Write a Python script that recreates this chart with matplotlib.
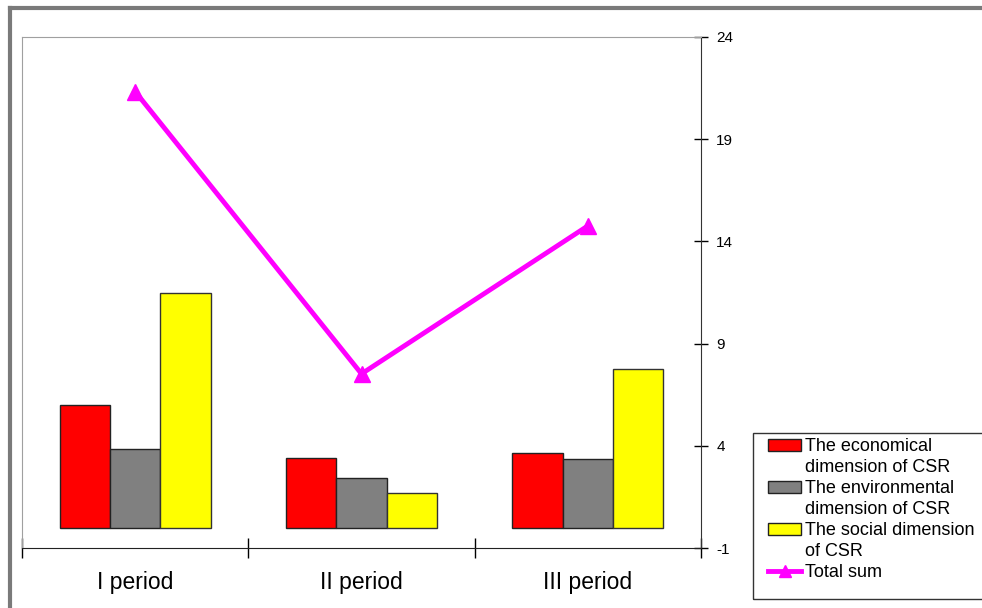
import matplotlib
matplotlib.use("Agg")
import matplotlib.pyplot as plt
from matplotlib.patches import Patch, Rectangle
from matplotlib.lines import Line2D
import numpy as np

plt.rcParams['font.family'] = ['Liberation Sans', 'DejaVu Sans']
plt.rcParams['axes.unicode_minus'] = False

# data
periods = ['I period', 'II period', 'III period']
economical = [6.0, 3.4, 3.65]
environmental = [3.85, 2.43, 3.36]
social = [11.48, 1.69, 7.75]
total = [21.33, 7.52, 14.76]
yticks = [-1, 4, 9, 14, 19, 24]

fig = plt.figure(figsize=(9.82, 6.08), dpi=100)
ax = fig.add_axes([22/982, 60/608, 679/982, 511/608])

x = np.arange(len(periods))
w = 0.222
ax.bar(x - w, economical, w, color='#ff0000', edgecolor='#222222', linewidth=1)
ax.bar(x, environmental, w, color='#808080', edgecolor='#222222', linewidth=1)
ax.bar(x + w, social, w, color='#ffff00', edgecolor='#333333', linewidth=1)
ax.plot(x, total, color='#ff00ff', linewidth=3.5, marker='^', markersize=11)

ax.set_xlim(-0.5, 2.5)
ax.set_ylim(-1, 24)

# right value axis, cross ticks
ax.yaxis.tick_right()
ax.set_yticks(yticks)
ax.tick_params(axis='y', direction='inout', length=10, width=1, labelsize=11, pad=6)
ax.set_xticks([-0.5, 0.5, 1.5, 2.5])
ax.set_xticklabels([])
ax.tick_params(axis='x', direction='inout', length=15, width=1)
for i, p in enumerate(periods):
    ax.text(i, -2.7, p, ha='center', va='center', fontsize=16.5)

ax.spines['left'].set_color('#a0a0a0')
ax.spines['top'].set_color('#a0a0a0')
ax.spines['right'].set_color('#333333')
ax.spines['bottom'].set_color('#222222')

# legend, continuation lines with empty handles so boxes sit by the first line
blank = Patch(visible=False)
handles = [
    Patch(facecolor='#ff0000', edgecolor='#222222'), blank,
    Patch(facecolor='#808080', edgecolor='#222222'), blank,
    Patch(facecolor='#ffff00', edgecolor='#222222'), blank,
    Line2D([], [], color='#ff00ff', linewidth=3.5, marker='^', markersize=9),
]
labels = ['The economical', 'dimension of CSR', 'The environmental',
          'dimension of CSR', 'The social dimension', 'of CSR', 'Total sum']
fig.legend(handles, labels, loc='upper left', bbox_to_anchor=(763/982, 1 - 433/608),
           fontsize=13, frameon=False, labelspacing=0.22,
           handlelength=1.8, handleheight=0.6, handletextpad=0.25,
           borderpad=0.3, borderaxespad=0)
# legend box (runs off the right edge like in the screenshot)
fig.add_artist(Rectangle((753/982, 1 - 599/608), 240/982, 166/608, fill=False,
                         edgecolor='#333333', linewidth=1, transform=fig.transFigure))

# outer gray frame of the screenshot
fig.add_artist(Line2D([10/982, 10/982], [0, 1 - 8/608], color='#7a7a7a', linewidth=3,
                      transform=fig.transFigure))
fig.add_artist(Line2D([10/982, 1], [1 - 8/608, 1 - 8/608], color='#7a7a7a', linewidth=3,
                      transform=fig.transFigure))

fig.savefig('out.png', dpi=100)
